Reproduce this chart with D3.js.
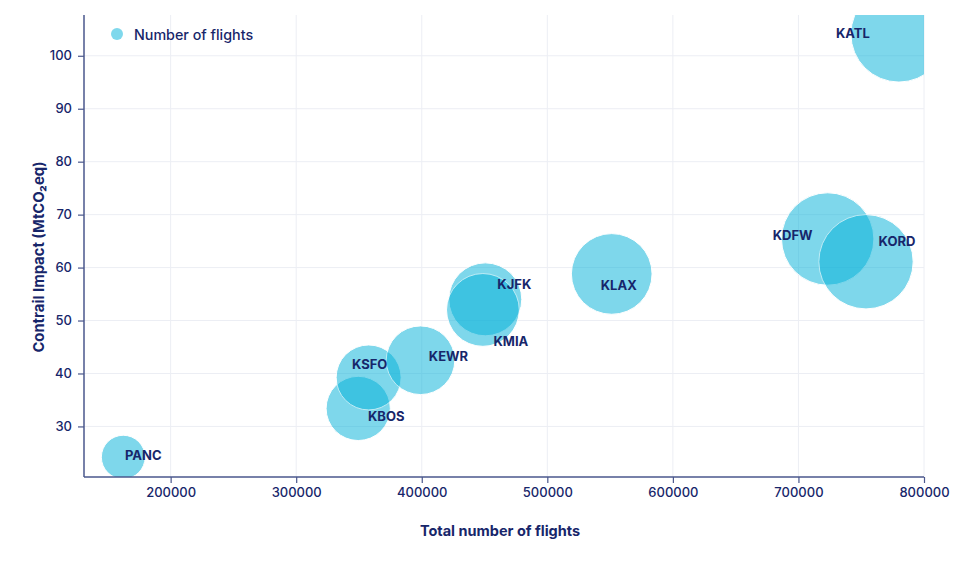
<!DOCTYPE html>
<html>
<head>
<meta charset="utf-8">
<script src="https://cdn.jsdelivr.net/npm/d3@7"></script>
<style>
  body { margin: 0; background: #fff; }
  svg { font-family: Inter, "Noto Sans", sans-serif; }
</style>
</head>
<body>
<script>
// airports, in drawing order
var airports = ["PANC", "KBOS", "KSFO", "KEWR", "KJFK", "KMIA", "KLAX", "KDFW", "KORD", "KATL"];
var flights = [162250, 349400, 357700, 399000, 450600, 448700, 551300, 723300, 753800, 780000];
var impact = [24.2, 33.4, 39.25, 42.5, 54.0, 52.0, 58.8, 65.4, 61.1, 104.1];
var xTicks = [200000, 300000, 400000, 500000, 600000, 700000, 800000];
var yTicks = [30, 40, 50, 60, 70, 80, 90, 100];
// where each airport name sits, relative to its bubble (px)
var labelOffsets = [[20, -2], [28, 8], [1, -13], [28, -4], [29, -15], [28, 31], [7, 11], [-35, -4], [31, -21], [-46, -1]];

var width = 973, height = 563;
// plot box ("top" is taken by window.top, hence the prefix)
var plotLeft = 84, plotRight = 924, plotTop = 15, plotBottom = 477;
var navy = "#17266a";
var axisColor = "#4a578c";
var gridColor = "#eceef4";
var bubbleColor = "rgb(0,177,217)";

var x = d3.scaleLinear().domain([131000, 800000]).range([plotLeft, plotRight]);
var y = d3.scaleLinear().domain([20.45, 107.7]).range([plotBottom, plotTop]);
var r = d3.scaleSqrt().domain([0, 800000]).range([0, 48.6]);

var svg = d3.select("body").append("svg")
    .attr("width", width)
    .attr("height", height);

svg.append("defs").append("clipPath").attr("id", "plot")
  .append("rect")
    .attr("x", plotLeft).attr("y", plotTop)
    .attr("width", plotRight - plotLeft).attr("height", plotBottom - plotTop);

// grid
svg.append("g").selectAll("line").data(yTicks).enter().append("line")
    .attr("x1", plotLeft).attr("x2", plotRight)
    .attr("y1", function(d) { return y(d); })
    .attr("y2", function(d) { return y(d); })
    .attr("stroke", gridColor).attr("stroke-width", 1);
svg.append("g").selectAll("line").data(xTicks).enter().append("line")
    .attr("y1", plotTop).attr("y2", plotBottom)
    .attr("x1", function(d) { return x(d); })
    .attr("x2", function(d) { return x(d); })
    .attr("stroke", gridColor).attr("stroke-width", 1);

// bubbles
svg.append("g").attr("clip-path", "url(#plot)")
  .selectAll("circle").data(airports).enter().append("circle")
    .attr("cx", function(d, i) { return x(flights[i]); })
    .attr("cy", function(d, i) { return y(impact[i]); })
    .attr("r", function(d, i) { return r(flights[i]); })
    .attr("fill", bubbleColor)
    .attr("stroke", "#fff")
    .attr("stroke-width", 1)
    .attr("opacity", 0.5);

// axes
var xAxis = svg.append("g")
    .attr("transform", "translate(0," + plotBottom + ")")
    .call(d3.axisBottom(x).tickValues(xTicks).tickSize(6).tickPadding(5).tickFormat(d3.format("d")));
var yAxis = svg.append("g")
    .attr("transform", "translate(" + plotLeft + ",0)")
    .call(d3.axisLeft(y).tickValues(yTicks).tickSize(6).tickPadding(6));

xAxis.select(".domain").attr("d", "M" + plotLeft + ",0H" + plotRight);
yAxis.select(".domain").attr("d", "M0," + plotTop + "V" + plotBottom);

[xAxis, yAxis].forEach(function(a) {
  a.select(".domain").attr("stroke", axisColor).attr("stroke-width", 1.5);
  a.selectAll(".tick line").attr("stroke", axisColor).attr("stroke-width", 1.2);
  a.selectAll(".tick text").attr("fill", navy)
      .style("font-size", "13px").style("font-weight", 500)
      .style("font-family", "Inter, sans-serif");
});

// airport names
svg.append("g").selectAll("text").data(airports).enter().append("text")
    .attr("x", function(d, i) { return x(flights[i]) + labelOffsets[i][0]; })
    .attr("y", function(d, i) { return y(impact[i]) + labelOffsets[i][1]; })
    .attr("text-anchor", "middle")
    .attr("dominant-baseline", "central")
    .attr("fill", navy)
    .style("font-size", "13px")
    .style("font-weight", 700)
    .text(function(d) { return d; });

// axis titles
svg.append("text")
    .attr("x", (plotLeft + plotRight) / 2 - 4)
    .attr("y", 530)
    .attr("text-anchor", "middle")
    .attr("dominant-baseline", "central")
    .attr("fill", navy)
    .style("font-size", "14.5px").style("font-weight", 700)
    .text("Total number of flights");

svg.append("text")
    .attr("transform", "translate(39,257) rotate(-90)")
    .attr("text-anchor", "middle")
    .attr("dominant-baseline", "central")
    .attr("fill", navy)
    .style("font-size", "14.8px").style("font-weight", 700)
    .text("Contrail Impact (MtCO₂eq)");

// legend
var legend = svg.append("g").attr("transform", "translate(117,34)");
legend.append("circle").attr("r", 6).attr("fill", bubbleColor).attr("opacity", 0.5);
legend.append("text")
    .attr("x", 17)
    .attr("dominant-baseline", "central")
    .attr("fill", navy)
    .style("font-size", "14.3px").style("font-weight", 500)
    .text("Number of flights");
</script>
</body>
</html>
